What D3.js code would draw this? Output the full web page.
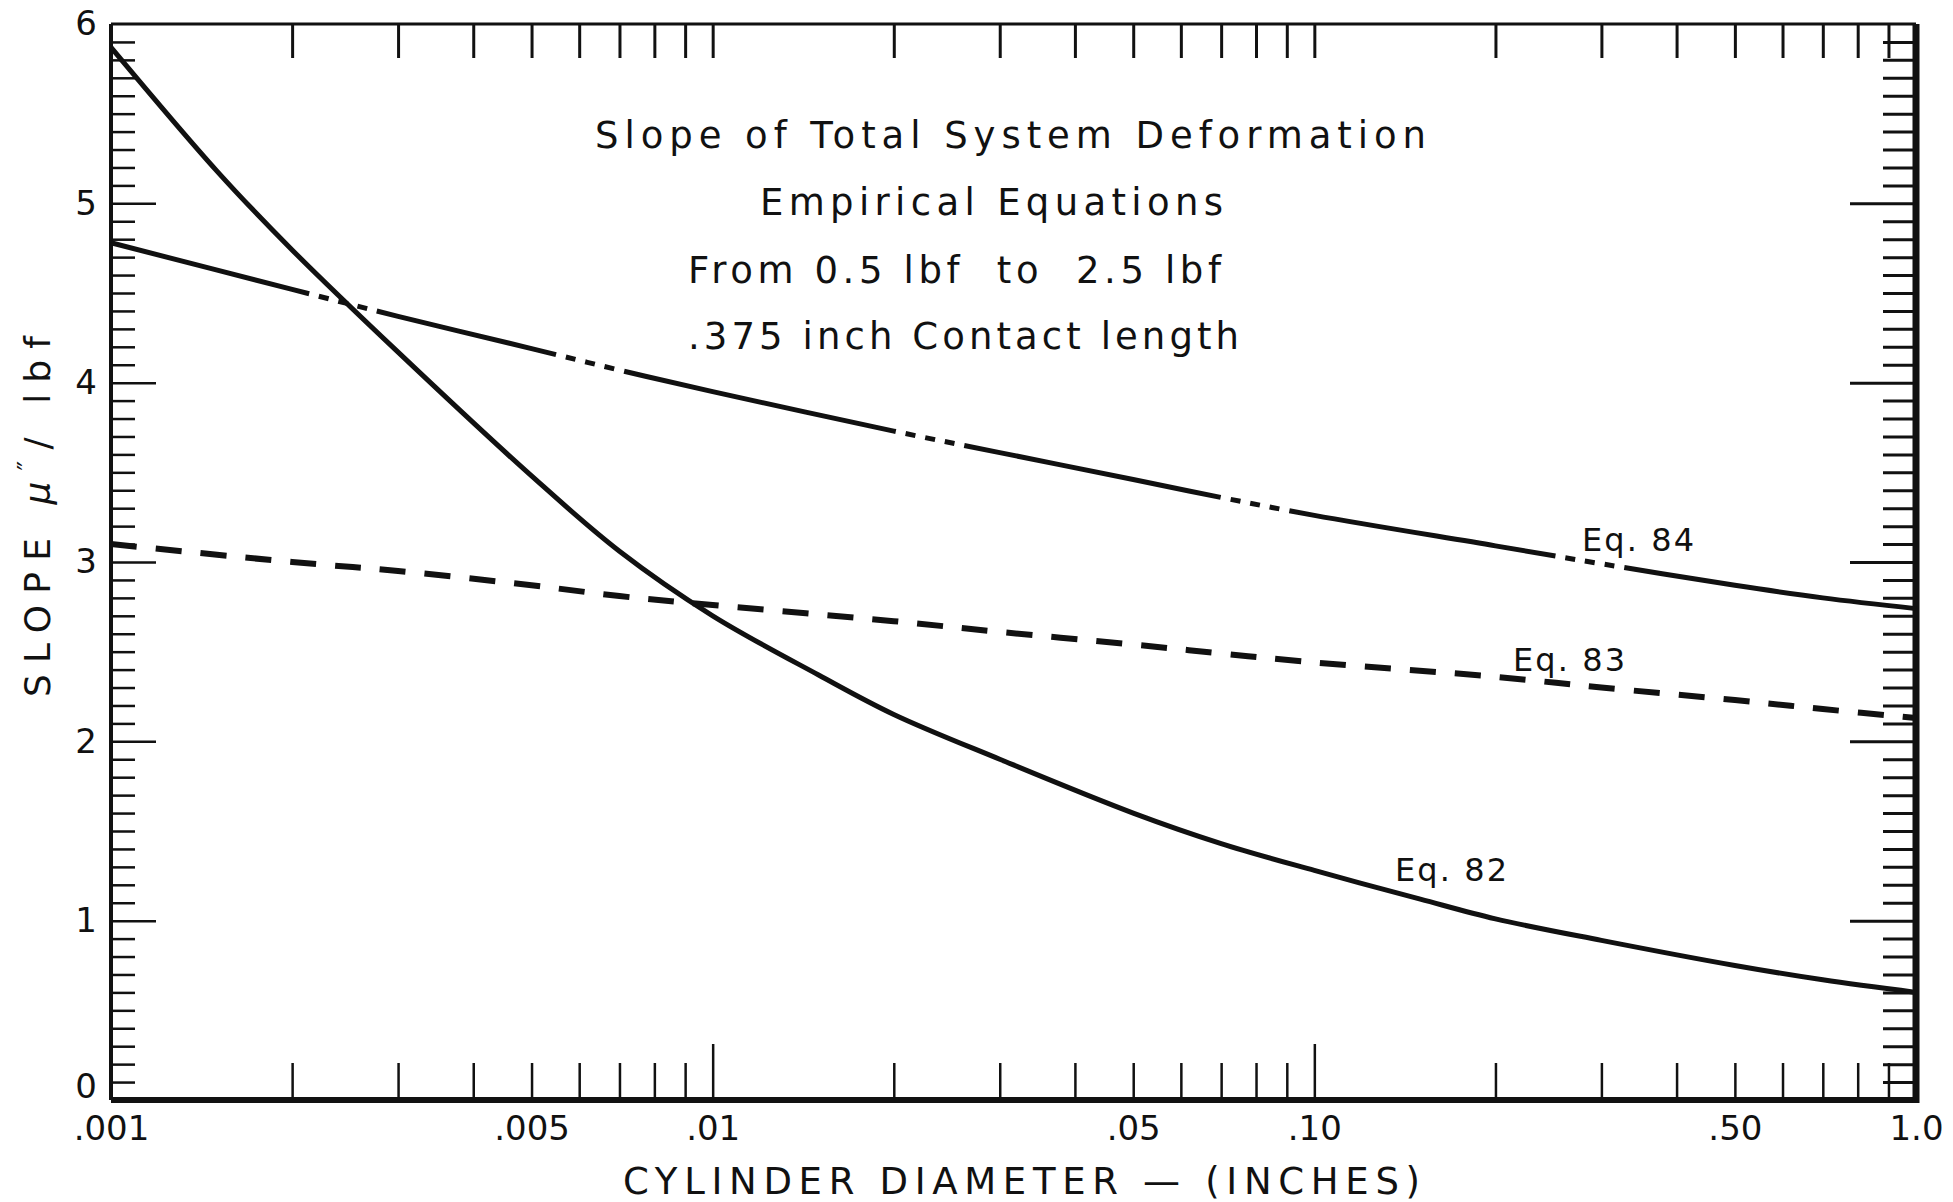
<!DOCTYPE html>
<html>
<head>
<meta charset="utf-8">
<script src="https://cdn.jsdelivr.net/npm/d3@7"></script>
<style>
  html, body { margin: 0; padding: 0; background: #fff; }
  svg { display: block; }
  text { font-family: "DejaVu Sans", sans-serif; fill: #111; }
</style>
</head>
<body>
<svg width="1953" height="1202"></svg>
<script>
// cylinder diameter (inches), slope in micro-inch per lbf
const diam82 = [0.001, 0.0015, 0.002, 0.003, 0.005, 0.007, 0.01, 0.015, 0.02, 0.03, 0.05, 0.07, 0.1, 0.15, 0.2, 0.3, 0.5, 0.7, 1.0];
const slope82 = [5.87, 5.18, 4.74, 4.17, 3.48, 3.06, 2.70, 2.37, 2.15, 1.90, 1.60, 1.43, 1.28, 1.12, 1.01, 0.89, 0.75, 0.67, 0.60];

const diam83 = [0.001, 0.002, 0.003, 0.005, 0.007, 0.01, 0.02, 0.03, 0.05, 0.07, 0.1, 0.2, 0.3, 0.5, 0.7, 1.0];
const slope83 = [3.10, 3.00, 2.95, 2.87, 2.81, 2.76, 2.67, 2.61, 2.54, 2.49, 2.44, 2.36, 2.30, 2.23, 2.18, 2.13];

const diam84 = [0.001, 0.002, 0.003, 0.005, 0.007, 0.01, 0.02, 0.03, 0.05, 0.07, 0.1, 0.2, 0.3, 0.5, 0.7, 1.0];
const slope84 = [4.78, 4.52, 4.37, 4.19, 4.07, 3.95, 3.73, 3.61, 3.46, 3.36, 3.26, 3.09, 2.99, 2.87, 2.80, 2.74];

const xTickValues = [0.001, 0.005, 0.01, 0.05, 0.1, 0.5, 1.0];
const xTickLabels = [".001", ".005", ".01", ".05", ".10", ".50", "1.0"];
const yTickValues = [0, 1, 2, 3, 4, 5, 6];

const titleLines = ["Slope of Total System Deformation", "Empirical Equations", "From 0.5 lbf  to  2.5 lbf", ".375 inch Contact length"];
const curveLabels = ["Eq. 84", "Eq. 83", "Eq. 82"];

const svg = d3.select("svg");
const pLeft = 111, pRight = 1916, pTop = 24, pBottom = 1100;

const x = d3.scaleLog().domain([0.001, 1]).range([pLeft, pRight]);
const y = d3.scaleLinear().domain([0, 6]).range([pBottom, pTop]);

// minor ticks: 2..9 in each decade, plus the inner decade marks
const logTicks = [];
[0.001, 0.01, 0.1].forEach(dec => {
  for (let k = 2; k <= 9; k++) logTicks.push(dec * k);
});
const decadeTicks = [0.01, 0.1];
const yMinor = d3.range(0, 61).map(i => i / 10).filter(v => Math.abs(v - Math.round(v)) > 1e-6);

function tickAxis(axis, sw) {
  return g => {
    g.call(axis);
    g.select(".domain").remove();
    g.selectAll(".tick line").attr("stroke", "#111").attr("stroke-width", sw);
    g.selectAll(".tick text").remove();
  };
}

// bottom ticks (pointing into the plot)
svg.append("g").attr("transform", `translate(0,${pBottom})`)
  .call(tickAxis(d3.axisBottom(x).tickValues(logTicks).tickSize(-37), 2.5));
svg.append("g").attr("transform", `translate(0,${pBottom})`)
  .call(tickAxis(d3.axisBottom(x).tickValues(decadeTicks).tickSize(-56), 2.5));

// top ticks
svg.append("g").attr("transform", `translate(0,${pTop})`)
  .call(tickAxis(d3.axisTop(x).tickValues(logTicks.concat(decadeTicks)).tickSize(-34), 3));

// left ticks
svg.append("g").attr("transform", `translate(${pLeft},0)`)
  .call(tickAxis(d3.axisLeft(y).tickValues(yMinor).tickSize(-24), 2.5));
svg.append("g").attr("transform", `translate(${pLeft},0)`)
  .call(tickAxis(d3.axisLeft(y).tickValues([1, 2, 3, 4, 5]).tickSize(-45), 2.5));

// right ticks
svg.append("g").attr("transform", `translate(${pRight},0)`)
  .call(tickAxis(d3.axisRight(y).tickValues(yMinor).tickSize(-33), 3));
svg.append("g").attr("transform", `translate(${pRight},0)`)
  .call(tickAxis(d3.axisRight(y).tickValues([1, 2, 3, 4, 5]).tickSize(-66), 3));

// frame
svg.append("line").attr("x1", pLeft).attr("x2", pRight).attr("y1", pTop).attr("y2", pTop)
  .attr("stroke", "#111").attr("stroke-width", 3);
svg.append("line").attr("x1", pLeft).attr("x2", pRight + 3).attr("y1", pBottom).attr("y2", pBottom)
  .attr("stroke", "#111").attr("stroke-width", 6);
svg.append("line").attr("x1", pLeft).attr("x2", pLeft).attr("y1", pTop).attr("y2", pBottom)
  .attr("stroke", "#111").attr("stroke-width", 4);
svg.append("line").attr("x1", pRight).attr("x2", pRight).attr("y1", pTop).attr("y2", pBottom + 3)
  .attr("stroke", "#111").attr("stroke-width", 7);

// tick labels
const xLab = svg.append("g").attr("transform", `translate(0,${pBottom})`)
  .call(d3.axisBottom(x).tickValues(xTickValues).tickSize(0).tickPadding(40)
    .tickFormat((d, i) => xTickLabels[i]));
xLab.select(".domain").remove();
xLab.selectAll("text").attr("font-size", 34).attr("font-family", "DejaVu Sans").attr("fill", "#111").attr("dy", 0);

const yLab = svg.append("g").attr("transform", `translate(${pLeft},0)`)
  .call(d3.axisLeft(y).tickValues(yTickValues).tickSize(0).tickPadding(14).tickFormat(d3.format("d")));
yLab.select(".domain").remove();
yLab.selectAll("text").attr("font-size", 34).attr("font-family", "DejaVu Sans").attr("fill", "#111")
  .attr("dy", d => d === 0 ? "-0.08em" : "0.32em");

// curves
const line = d3.line().x(d => x(d[0])).y(d => y(d[1])).curve(d3.curveCatmullRom.alpha(0.5));

svg.append("path").datum(d3.zip(diam82, slope82))
  .attr("d", line).attr("fill", "none").attr("stroke", "#111").attr("stroke-width", 5);

svg.append("path").datum(d3.zip(diam83, slope83))
  .attr("d", line).attr("fill", "none").attr("stroke", "#111").attr("stroke-width", 6)
  .attr("stroke-dasharray", "26,19");

const p84 = svg.append("path").datum(d3.zip(diam84, slope84))
  .attr("d", line).attr("fill", "none").attr("stroke", "#111").attr("stroke-width", 5);

// Eq. 84 is drawn long-solid with little "- - -" breaks at a few places
const breakAt = [343, 590, 930, 1255, 1590];
const breakPat = [10, 10, 10, 10, 10, 10, 10];
const node = p84.node();
const total = node.getTotalLength();
function lenAtX(px) {
  let lo = 0, hi = total;
  for (let i = 0; i < 40; i++) {
    const mid = (lo + hi) / 2;
    if (node.getPointAtLength(mid).x < px) lo = mid; else hi = mid;
  }
  return lo;
}
const breakLen = d3.sum(breakPat);
const dash = [];
let pos = 0;
breakAt.forEach(bx => {
  const start = lenAtX(bx) - breakLen / 2;
  dash.push(start - pos, ...breakPat);
  pos = start + breakLen;
});
dash.push(total - pos + 10, 0);
p84.attr("stroke-dasharray", dash.join(","));

// title block
const titleX = [595, 760, 688, 688];
const titleY = [148, 215, 283, 349];
const titleW = [831, 463, 533, 551];
titleLines.forEach((t, i) => {
  svg.append("text").attr("x", titleX[i]).attr("y", titleY[i])
    .attr("font-size", 37).attr("textLength", titleW[i]).attr("lengthAdjust", "spacing")
    .attr("xml:space", "preserve").text(t);
});

// curve labels
const labX = [1582, 1513, 1395];
const labY = [551, 671, 881];
curveLabels.forEach((t, i) => {
  svg.append("text").attr("x", labX[i]).attr("y", labY[i])
    .attr("font-size", 32).attr("textLength", 112).attr("lengthAdjust", "spacing").text(t);
});

// axis titles
svg.append("text").attr("x", 623).attr("y", 1194)
  .attr("font-size", 37).attr("textLength", 797).attr("lengthAdjust", "spacing")
  .text("CYLINDER  DIAMETER — (INCHES)");

const yt = svg.append("text").attr("transform", "translate(50,697) rotate(-90)")
  .attr("font-size", 36).attr("textLength", 361).attr("lengthAdjust", "spacing");
yt.append("tspan").text("SLOPE   ");
yt.append("tspan").attr("font-style", "italic").text("μ");
yt.append("tspan").attr("dy", -13).attr("font-size", 26).text("″");
yt.append("tspan").attr("dy", 13).text("/ lbf");
</script>
</body>
</html>
